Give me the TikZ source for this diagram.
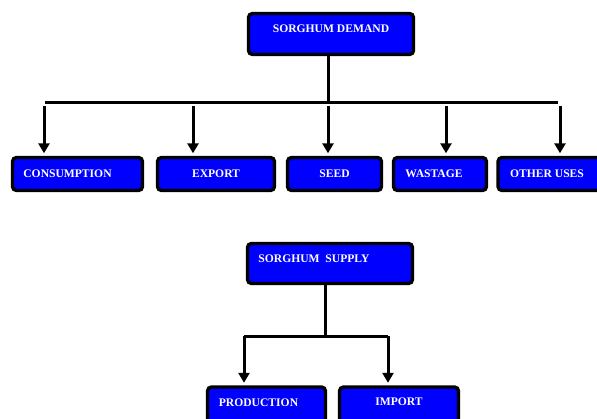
\documentclass[tikz,border=0pt]{standalone}
\usepackage{fontspec}
\setmainfont{Liberation Serif}
\usetikzlibrary{arrows.meta}

\definecolor{boxblue}{RGB}{0,0,255}

\tikzset{
  box/.style={draw=black, line width=3.4pt, fill=boxblue, rounded corners=4pt,
    inner sep=0pt},
  boxtext/.style={text=white, font=\fontsize{11.6}{13}\selectfont\bfseries},
  link/.style={line width=3pt},
  arr/.style={line width=3pt, -{Triangle[length=10pt,width=11pt]}, shorten >=2.5pt}
}

\begin{document}
\begin{tikzpicture}[x=1pt, y=-1pt]
  \useasboundingbox (0,0) rectangle (597,418);

  %% demand tree
  \node[box, minimum width=165pt, minimum height=41pt,
    label={[boxtext, yshift=5pt]center:SORGHUM DEMAND}] (dem) at (331,34) {};

  \node[box, minimum width=130pt, minimum height=33pt,
    label={[boxtext, xshift=-10pt]center:CONSUMPTION}] (cons) at (77.5,174) {};
  \node[box, minimum width=117pt, minimum height=33pt,
    label={[boxtext]center:EXPORT}] (exp) at (216,174) {};
  \node[box, minimum width=94pt, minimum height=33pt,
    label={[boxtext]center:SEED}] (seed) at (334.5,174) {};
  \node[box, minimum width=93pt, minimum height=33pt,
    label={[boxtext, xshift=-6pt]center:WASTAGE}] (wast) at (440,174) {};
  \node[box, minimum width=112pt, minimum height=33pt,
    label={[boxtext, xshift=-7pt]center:OTHER USES}] (oth) at (554,174) {};

  \coordinate (dbar) at (328,102);
  \coordinate (dl) at (45,102);
  \coordinate (dr) at (558,102);
  \draw[link] (dem.south -| dbar) -- (dbar);
  \draw[link] (dl) -- (dr);

  \foreach \n/\x in {cons/44, exp/193, seed/328, wast/446, oth/560}{
    \coordinate (t\n) at (\x,106);
    \draw[arr] (t\n) -- (t\n |- \n.north); %% bar -> \n
  }

  %% supply tree
  \node[box, minimum width=165pt, minimum height=40pt,
    label={[boxtext, xshift=-16pt, yshift=5pt]center:SORGHUM\ \ SUPPLY}] (sup) at (330,263.5) {};

  \node[box, minimum width=118pt, minimum height=50pt,
    label={[boxtext, xshift=-8pt, yshift=9pt]center:PRODUCTION}] (prod) at (266.5,412) {};
  \node[box, minimum width=119pt, minimum height=50pt,
    label={[boxtext, yshift=10pt]center:IMPORT}] (imp) at (399,412) {};

  \coordinate (sbar) at (325,336);
  \coordinate (sl) at (244,336);
  \coordinate (sr) at (388,336);
  \draw[link] (sup.south -| sbar) -- (sbar);
  \draw[link] (sl) -- (sr);
  \draw[arr] (sl) -- (sl |- prod.north); %% bar -> production
  \draw[arr] (sr) -- (sr |- imp.north); %% bar -> import

\end{tikzpicture}
\end{document}
